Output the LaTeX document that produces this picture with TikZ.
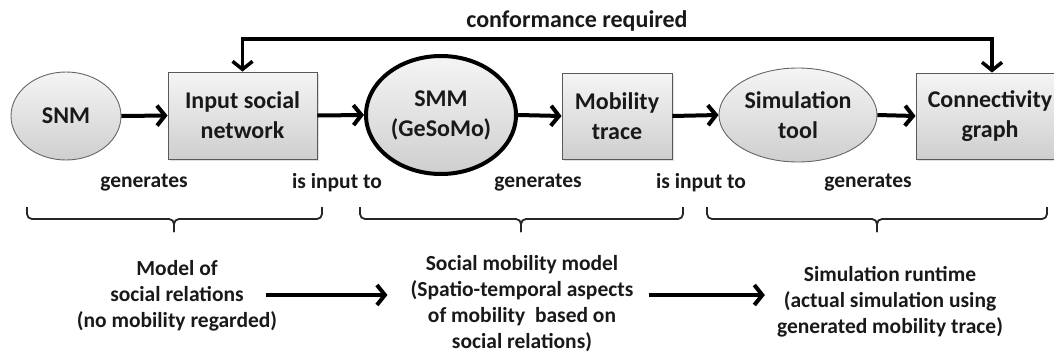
\documentclass[tikz,border=0pt]{standalone}
\usepackage{fontspec}
\setmainfont{Carlito}
\usetikzlibrary{shapes.geometric,arrows.meta,shadows}

\tikzset{
  txt/.style={font=\bfseries\fontsize{24}{30}\selectfont, text=black!90, align=center},
  lbl/.style={font=\bfseries\fontsize{21.5}{26}\selectfont, text=black!90, align=center, inner sep=0pt},
  shade/.style={top color=gray!8, bottom color=gray!38},
  procbox/.style={txt, shade, draw=black!65, line width=0.9pt, rectangle, inner sep=0pt,
    drop shadow={opacity=0.25, shadow xshift=1.5pt, shadow yshift=-1.5pt}},
  model/.style={txt, shade, draw=black!60, line width=0.9pt, ellipse, inner sep=0pt},
  flow/.style={line width=4pt, -{Straight Barb[length=8pt,width=20pt,line width=4pt]}},
  loopback/.style={line width=3.5pt, {Straight Barb[length=8pt,width=20pt,line width=3.5pt]}-{Straight Barb[length=8pt,width=20pt,line width=3.5pt]}},
  grouping/.style={line width=1.8pt, black!85, rounded corners=5pt}
}

% square bracket-like brace: left end, right end, centre x (ends at y=207, bar at y=219, tip at y=232)
\newcommand\phasebrace[3]{%
  \draw[grouping] (#1,207) -- (#1,219) -- (#3,219) -- (#3,232);
  \draw[grouping] (#2,207) -- (#2,219) -- (#3,219) -- (#3,232);
}

\begin{document}
\begin{tikzpicture}[x=1pt, y=-1pt]
\useasboundingbox (0,0) rectangle (1054,356);
\clip (0,0) rectangle (1054,356);

% processing chain
\node[model, minimum width=110pt, minimum height=88pt] (snm) at (66,116) {SNM};
\node[procbox, minimum width=149pt, minimum height=87pt] (isn) at (242.5,115.5) {Input social\\network};
\node[model, draw=black, line width=4pt, minimum width=150pt, minimum height=118pt] (smm) at (441,115) {SMM\\(GeSoMo)};
\node[procbox, minimum width=110pt, minimum height=86pt] (mt) at (617,116) {Mobility\\trace};
\node[model, minimum width=158pt, minimum height=94pt] (st) at (798,115) {Simulation\\tool};
\node[procbox, minimum width=148pt, minimum height=86pt] (cg) at (990,116) {Connectivity\\graph};

\draw[flow] (snm.east) -- (isn.west);
\draw[flow] (isn.east) -- (smm.west);
\draw[flow] (smm.east) -- (mt.west);
\draw[flow] (mt.east) -- (st.west);
\draw[flow] (st.east) -- (cg.west);

% conformance loop
\coordinate (looptop) at (992,39);
\draw[loopback] (isn.north) |- (looptop) -- (looptop |- cg.north);
\node[txt, inner sep=0pt] (conf) at (577,21) {conformance required};

% relation labels
\node[lbl] (g1) at (144,183) {generates};
\node[lbl] (i1) at (337,183) {is input to};
\node[lbl] (g2) at (538,183) {generates};
\node[lbl] (i2) at (701,183) {is input to};
\node[lbl] (g3) at (868,183) {generates};

% phase braces
\phasebrace{27}{322}{174}
\phasebrace{360}{683}{521}
\phasebrace{707}{1047}{877}

% phase descriptions
\node[lbl] (b1) at (177,296) {Model of\\social relations\\(no mobility regarded)};
\node[lbl] (b2) at (522,304) {Social mobility model\\(Spatio-temporal aspects\\of mobility\ \ based on\\social relations)};
\node[lbl] (b3) at (890,302) {Simulation runtime\\(actual simulation using\\generated mobility trace)};

\draw[flow] ([xshift=-11pt,yshift=1pt]b1.east) -- ([xshift=-23pt,yshift=1pt]b2.west |- b1.east);
\draw[flow] ([xshift=15pt,yshift=9pt]b2.east) -- ([xshift=-12pt,yshift=9pt]b3.west |- b2.east);
\end{tikzpicture}
\end{document}
